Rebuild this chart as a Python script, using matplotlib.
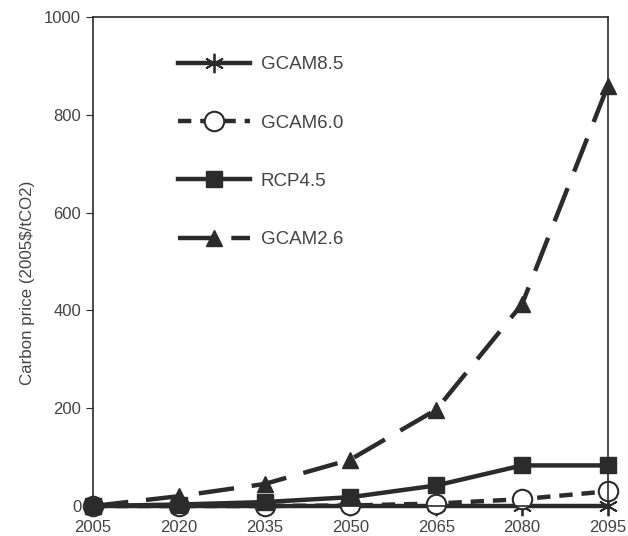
import numpy as np
import matplotlib.pyplot as plt

years = [2005, 2020, 2035, 2050, 2065, 2080, 2095]
gcam85 = [0, 0, 0, 0, 0, 0, 0]
gcam60 = [0, 0, 0, 1, 5, 14, 30]
rcp45 = [0, 3, 8, 18, 42, 83, 83]
gcam26 = [0, 20, 45, 95, 197, 413, 860]

ink = "#2b2b2b"
txt = "#444444"
plt.rcParams['font.family'] = ['Liberation Sans', 'DejaVu Sans']

fig = plt.figure(figsize=(6.28, 5.36), dpi=100)
ax = fig.add_axes([0.148, 0.056, 0.820, 0.912])

ax.plot(years, gcam85, color=ink, lw=3.2, marker=(6, 2, 0), ms=14, mew=1.3,
        label="GCAM8.5", clip_on=False)
ax.plot(years, gcam60, color=ink, lw=3.2, ls=(0, (3, 2)), marker='o', ms=14,
        mfc='white', mew=1.5, label="GCAM6.0", clip_on=False)
ax.plot(years, rcp45, color=ink, lw=3.2, marker='s', ms=11, label="RCP4.5",
        clip_on=False)
ax.plot(years, gcam26, color=ink, lw=3.2, ls=(0, (8, 4)), marker='^', ms=12,
        label="GCAM2.6", clip_on=False)

ax.set_xlim(2005, 2095)
ax.set_ylim(0, 1000)
ax.set_xticks(years)
ax.set_yticks([0, 200, 400, 600, 800, 1000])
ax.tick_params(colors=ink, labelcolor=txt, labelsize=12, length=5, width=0.8)
ax.tick_params(axis='x', length=0, pad=10)
for s in ax.spines.values():
    s.set_color(ink)
    s.set_linewidth(1.2)
ax.set_ylabel("Carbon price (2005$/tCO2)", color=txt, fontsize=12.2)
ax.yaxis.set_label_coords(-0.112, 0.456)

ax.legend(loc='upper left', bbox_to_anchor=(0.133, 0.955), frameon=False,
          fontsize=13.5, handlelength=3.8, labelspacing=2.2, handletextpad=0.6,
          labelcolor=txt)

fig.savefig("out.png", dpi=100)
